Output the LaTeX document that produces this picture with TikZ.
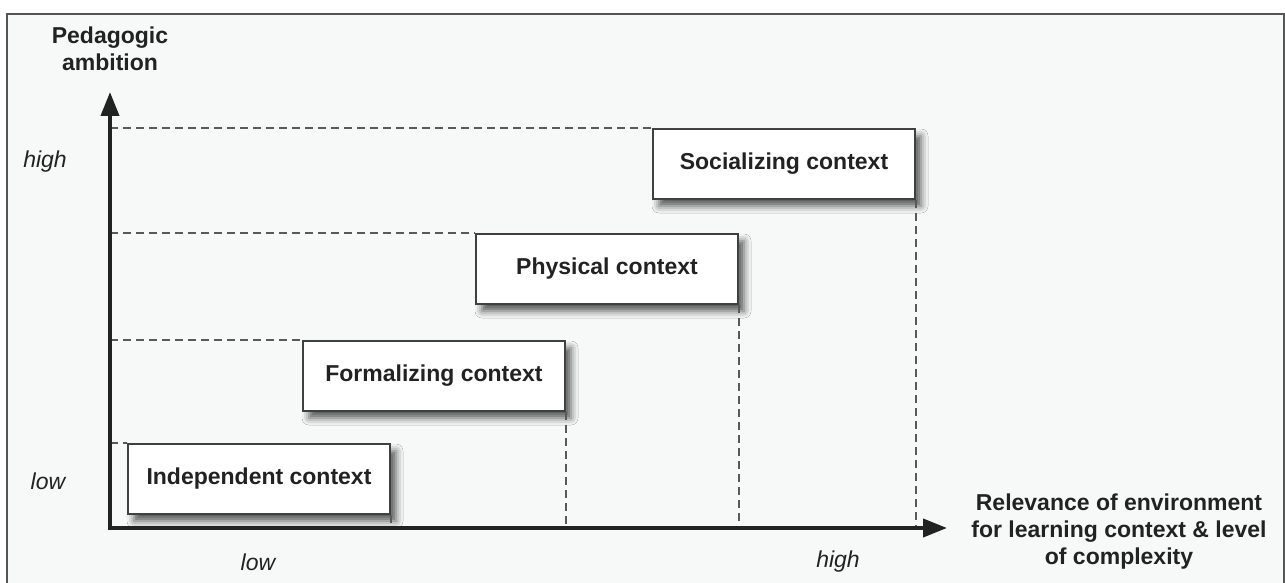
\documentclass[tikz,border=0pt]{standalone}
\usepackage{fontspec}
\setmainfont{Liberation Sans}
\usetikzlibrary{positioning,arrows.meta,shadows.blur}
\definecolor{framegray}{HTML}{555555}
\definecolor{paper}{HTML}{F7F9F9}
\definecolor{inkgray}{HTML}{222222}
\tikzstyle{ctxbox} = [draw=black!75, fill=white, line width=1pt,
    rectangle, minimum width=131pt, minimum height=35pt, inner sep=0pt,
    anchor=north west, text=inkgray, font=\fontsize{11.5}{13.5}\selectfont\bfseries,
    blur shadow={shadow xshift=3pt, shadow yshift=-3.5pt, shadow blur radius=3.5pt, shadow opacity=65}]
\tikzstyle{axisline} = [line width=2pt, draw=inkgray, -{Triangle[length=12pt,width=9pt]}]
\tikzstyle{guide} = [draw=black!65, line width=1.1pt, dash pattern=on 4pt off 2.5pt]
\tikzstyle{ticklabel} = [text=inkgray, font=\fontsize{11.5}{13.5}\selectfont\itshape]
\tikzstyle{axislabel} = [text=inkgray, align=center, font=\fontsize{11.5}{13.5}\selectfont\bfseries]
\begin{document}
\begin{tikzpicture}[x=0.5pt, y=-0.5pt]
    \useasboundingbox (0,0) rectangle (1285,583);
    \draw[framegray, line width=1pt, fill=paper] (7,14) rectangle (1284,584);
    % axes
    \coordinate (origin) at (110,528);
    \coordinate (ytip) at (110,92);
    \coordinate (xtip) at (947,528);
    % context boxes
    \node[ctxbox] (indep) at (127,443) {Independent context};
    \node[ctxbox] (formal) at (302,340) {Formalizing context};
    \node[ctxbox] (phys) at (475,233) {Physical context};
    \node[ctxbox] (social) at (652,128) {Socializing context};
    % guide lines
    \foreach \b in {indep,formal,phys,social}{
        \draw[guide] (origin |- \b.north west) -- (\b.north west);
        \draw[guide] (\b.south east) -- (\b.south east |- origin);
    }
    \draw[axisline] ([yshift=-1pt]origin) -- (ytip);
    \draw[axisline] ([xshift=-1pt]origin) -- (xtip);
    % labels
    \node[axislabel] (ylabel) at (110,49) {Pedagogic\\ambition};
    \node[axislabel] (xlabel) at (1119,532) {Relevance of environment\\for learning context \& level\\of complexity};
    \node[ticklabel] (yhigh) at (45,162) {high};
    \node[ticklabel] (ylow) at (48,481) {low};
    \node[ticklabel] (xlow) at (258,562) {low};
    \node[ticklabel] (xhigh) at (838,562) {high};
\end{tikzpicture}
\end{document}
